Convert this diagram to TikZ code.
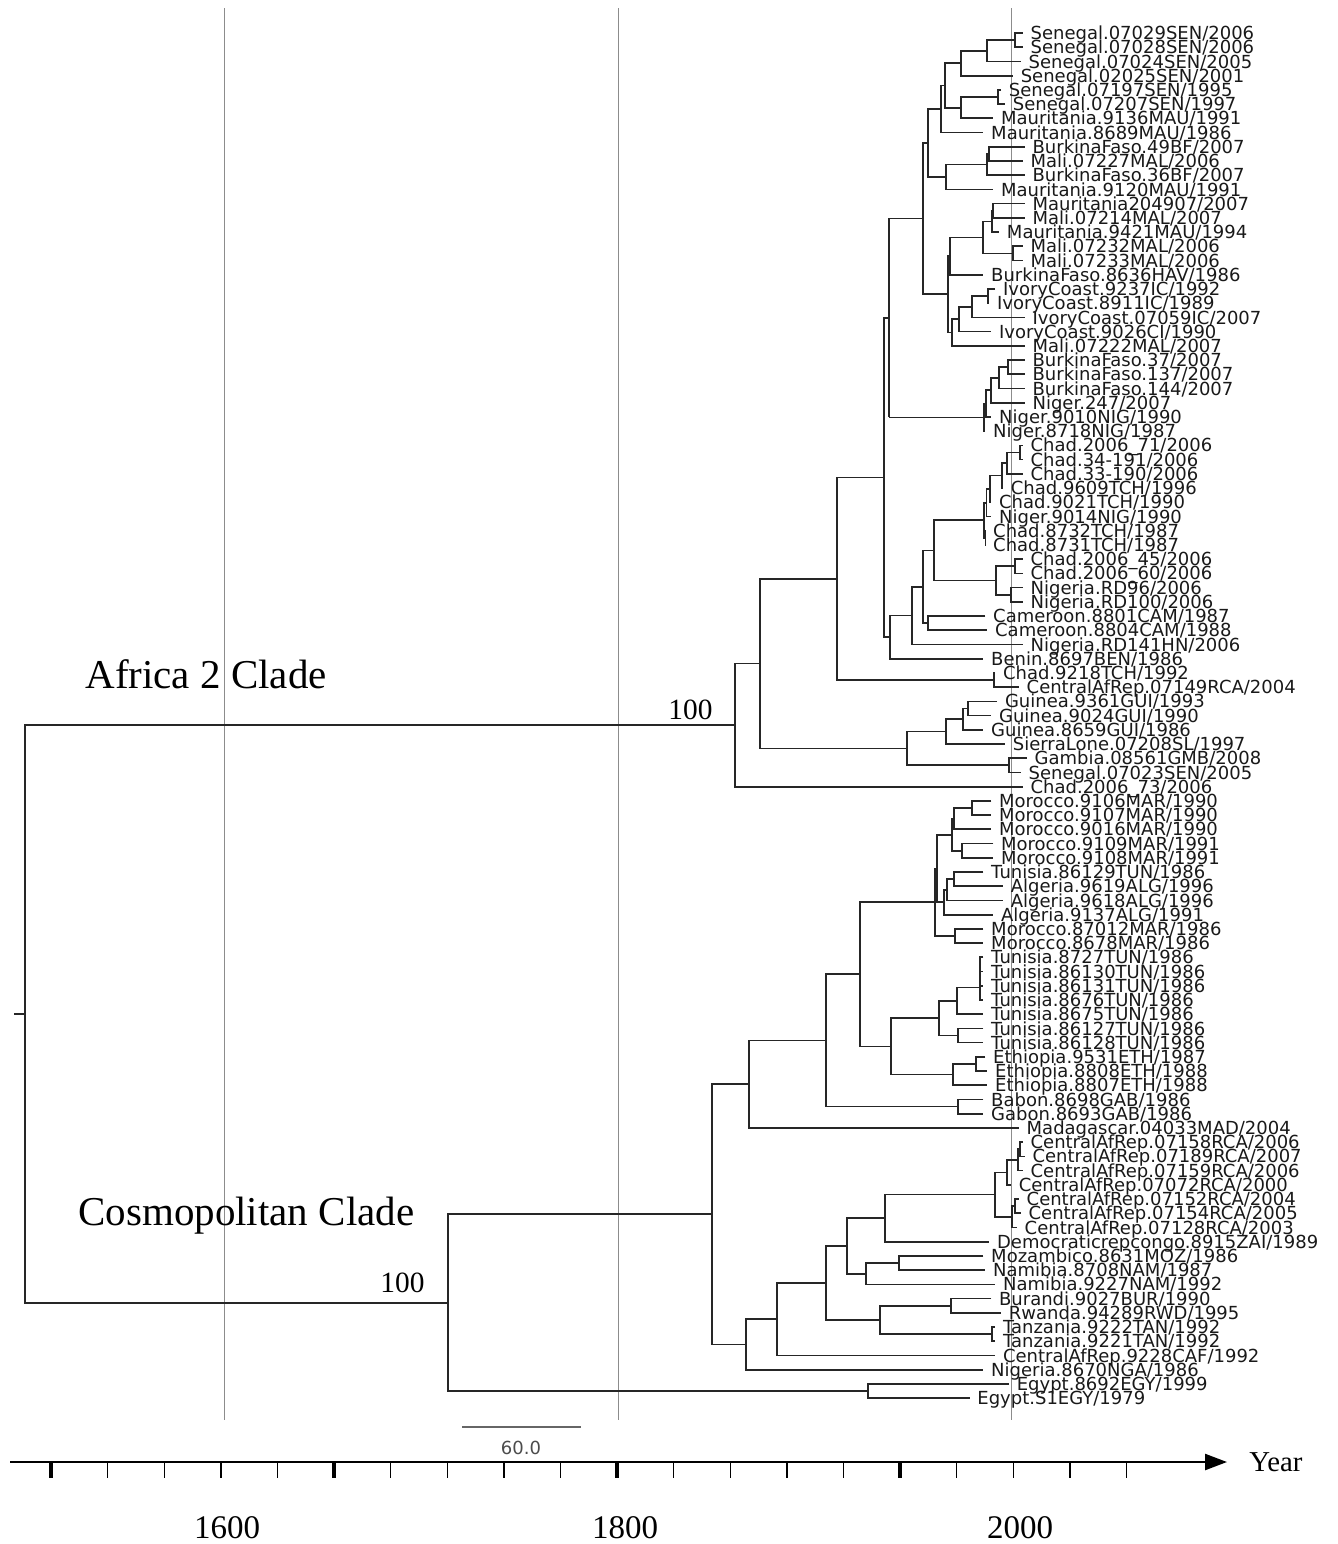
\documentclass[tikz,border=0pt]{standalone}
\usepackage{fontspec}
\setmainfont{Liberation Serif}
\setsansfont{DejaVu Sans}
\usetikzlibrary{arrows.meta,calc}

\newcommand\clade[4]{%
  \path ($(#3)!0.5!(#4)$) coordinate (#1m);
  \coordinate (#1) at (#2,0 |- #1m);
  \draw[branch] (#3) -| (#1) |- (#4);}

\begin{document}
\begin{tikzpicture}[x=0.5pt,y=-0.5pt,
    branch/.style={line width=0.85pt, black!85, line join=miter},
    grid/.style={line width=0.5pt, black!45},
    leaf/.style={anchor=west, inner xsep=3.7pt, inner ysep=0pt, text height=6.6pt, text depth=0pt,
      font=\sffamily\fontsize{9}{9}\selectfont, text=black!90},
    cladename/.style={anchor=base west, inner sep=0pt, font=\fontsize{20.5}{24}\selectfont},
    support/.style={anchor=base west, inner sep=0pt, font=\fontsize{14.7}{16}\selectfont},
    yearlabel/.style={inner sep=0pt, font=\fontsize{16.5}{18}\selectfont},
    axis/.style={line width=1.2pt, -{Triangle[length=11pt,width=8pt]}},
    tick/.style={line width=0.7pt},
    majortick/.style={line width=1.6pt}]
  \useasboundingbox (0,0) rectangle (1338,1544);

  \foreach \gx in {224,618,1011} \draw[grid] (\gx,8) -- (\gx,1420);

  \foreach [count=\i] \nm/\yr in {Senegal.07029SEN/2006, Senegal.07028SEN/2006, Senegal.07024SEN/2005,
      Senegal.02025SEN/2001, Senegal.07197SEN/1995, Senegal.07207SEN/1997, Mauritania.9136MAU/1991,
      Mauritania.8689MAU/1986, BurkinaFaso.49BF/2007, Mali.07227MAL/2006, BurkinaFaso.36BF/2007,
      Mauritania.9120MAU/1991, Mauritania204907/2007, Mali.07214MAL/2007, Mauritania.9421MAU/1994,
      Mali.07232MAL/2006, Mali.07233MAL/2006, BurkinaFaso.8636HAV/1986, IvoryCoast.9237IC/1992,
      IvoryCoast.8911IC/1989, IvoryCoast.07059IC/2007, IvoryCoast.9026CI/1990, Mali.07222MAL/2007,
      BurkinaFaso.37/2007, BurkinaFaso.137/2007, BurkinaFaso.144/2007, Niger.247/2007,
      Niger.9010NIG/1990, Niger.8718NIG/1987, Chad.2006\_71/2006, Chad.34-191/2006, Chad.33-190/2006,
      Chad.9609TCH/1996, Chad.9021TCH/1990, Niger.9014NIG/1990, Chad.8732TCH/1987, Chad.8731TCH/1987,
      Chad.2006\_45/2006, Chad.2006\_60/2006, Nigeria.RD96/2006, Nigeria.RD100/2006,
      Cameroon.8801CAM/1987, Cameroon.8804CAM/1988, Nigeria.RD141HN/2006, Benin.8697BEN/1986,
      Chad.9218TCH/1992, CentralAfRep.07149RCA/2004, Guinea.9361GUI/1993, Guinea.9024GUI/1990,
      Guinea.8659GUI/1986, SierraLone.07208SL/1997, Gambia.08561GMB/2008, Senegal.07023SEN/2005,
      Chad.2006\_73/2006, Morocco.9106MAR/1990, Morocco.9107MAR/1990, Morocco.9016MAR/1990,
      Morocco.9109MAR/1991, Morocco.9108MAR/1991, Tunisia.86129TUN/1986, Algeria.9619ALG/1996,
      Algeria.9618ALG/1996, Algeria.9137ALG/1991, Morocco.87012MAR/1986, Morocco.8678MAR/1986,
      Tunisia.8727TUN/1986, Tunisia.86130TUN/1986, Tunisia.86131TUN/1986, Tunisia.8676TUN/1986,
      Tunisia.8675TUN/1986, Tunisia.86127TUN/1986, Tunisia.86128TUN/1986, Ethiopia.9531ETH/1987,
      Ethiopia.8808ETH/1988, Ethiopia.8807ETH/1988, Babon.8698GAB/1986, Gabon.8693GAB/1986,
      Madagascar.04033MAD/2004, CentralAfRep.07158RCA/2006, CentralAfRep.07189RCA/2007,
      CentralAfRep.07159RCA/2006, CentralAfRep.07072RCA/2000, CentralAfRep.07152RCA/2004,
      CentralAfRep.07154RCA/2005, CentralAfRep.07128RCA/2003, Democraticrepcongo.8915ZAI/1989,
      Mozambico.8631MOZ/1986, Namibia.8708NAM/1987, Namibia.9227NAM/1992, Burandi.9027BUR/1990,
      Rwanda.94289RWD/1995, Tanzania.9222TAN/1992, Tanzania.9221TAN/1992, CentralAfRep.9228CAF/1992,
      Nigeria.8670NGA/1986, Egypt.8692EGY/1999, Egypt.S1EGY/1979}
    \node[leaf] (l\i) at ({1011+1.97*(\yr-2000)},{33+(\i-1)*14.22}) {\nm/\yr};

  \clade{a1}{1015}{l1.west}{l2.west}
  \clade{a2}{987}{a1}{l3.west}
  \clade{a3}{961}{a2}{l4.west}
  \clade{a4}{998}{l5.west}{l6.west}
  \clade{a5}{961}{a4}{l7.west}
  \clade{a6}{945}{a3}{a5}
  \clade{a7}{941}{a6}{l8.west}
  \clade{a8}{989}{l9.west}{l10.west}
  \clade{a9}{987}{a8}{l11.west}
  \clade{a10}{946}{a9}{l12.west}
  \clade{a11}{928}{a7}{a10}
  \clade{a12}{993}{l13.west}{l14.west}
  \clade{a13}{992}{a12}{l15.west}
  \clade{a14}{1013}{l16.west}{l17.west}
  \clade{a15}{983}{a13}{a14}
  \clade{a16}{950}{a15}{l18.west}
  \clade{a17}{988}{l19.west}{l20.west}
  \clade{a18}{972}{a17}{l21.west}
  \clade{a19}{959}{a18}{l22.west}
  \clade{a20}{952}{a19}{l23.west}
  \clade{a21}{948}{a16}{a20}
  \clade{a22}{923}{a11}{a21}
  \clade{ng1}{1008}{l24.west}{l25.west}
  \clade{ng2}{999}{ng1}{l26.west}
  \clade{ng3}{991}{ng2}{l27.west}
  \clade{ng4}{986}{ng3}{l28.west}
  \clade{ng5}{984}{ng4}{l29.west}
  \path ($(a22)!0.5!(ng5)$) coordinate (a23m);
  \coordinate (a23) at (889,0 |- a23m);
  \draw[branch] (a22) -| (a23) -- (a23 |- ng5);
  \draw[branch, line width=0.4pt] (a23 |- ng5) -- (ng5);
  \clade{c1}{1020}{l30.west}{l31.west}
  \clade{c2}{1007}{c1}{l32.west}
  \clade{c3}{1002}{c2}{l33.west}
  \clade{c4}{990}{c3}{l34.west}
  \clade{c5}{986.5}{c4}{l35.west}
  \clade{c6}{985.5}{l36.west}{l37.west}
  \clade{c7}{984}{c5}{c6}
  \clade{c8}{1015}{l38.west}{l39.west}
  \clade{c9}{1011}{l40.west}{l41.west}
  \clade{c10}{996}{c8}{c9}
  \clade{c11}{934}{c7}{c10}
  \clade{cm}{928}{l42.west}{l43.west}
  \clade{c12}{923}{c11}{cm}
  \clade{c13}{912}{c12}{l44.west}
  \clade{c14}{890}{c13}{l45.west}
  \clade{a24}{884}{a23}{c14}
  \clade{a25}{994}{l46.west}{l47.west}
  \clade{a26}{837}{a24}{a25}
  \clade{g1}{968}{l48.west}{l49.west}
  \clade{g2}{963}{g1}{l50.west}
  \clade{g3}{946}{g2}{l51.west}
  \clade{g4}{1009}{l52.west}{l53.west}
  \clade{g5}{907}{g3}{g4}
  \clade{a27}{760}{a26}{g5}
  \clade{afr}{735}{a27}{l54.west}

  \clade{m1}{972}{l55.west}{l56.west}
  \clade{m2}{954}{m1}{l57.west}
  \clade{m3}{962}{l58.west}{l59.west}
  \clade{m4}{952}{m2}{m3}
  \clade{al1}{954}{l60.west}{l61.west}
  \clade{al2}{947}{al1}{l62.west}
  \clade{al3}{944}{al2}{l63.west}
  \clade{m5}{937}{m4}{al3}
  \clade{m6}{955}{l64.west}{l65.west}
  \clade{m7}{935}{m5}{m6}
  \clade{t1}{980}{l66.west}{l67.west}
  \clade{t2}{980}{t1}{l68.west}
  \clade{t3}{980}{t2}{l69.west}
  \clade{t4}{957}{t3}{l70.west}
  \clade{t5}{958}{l71.west}{l72.west}
  \clade{t6}{939}{t4}{t5}
  \clade{e1}{976}{l73.west}{l74.west}
  \clade{e2}{953}{e1}{l75.west}
  \clade{t7}{891}{t6}{e2}
  \clade{m8}{860}{m7}{t7}
  \clade{gb}{958}{l76.west}{l77.west}
  \clade{m9}{826}{m8}{gb}
  \clade{m10}{749}{m9}{l78.west}
  \clade{r1}{1020}{l79.west}{l80.west}
  \clade{r2}{1018}{r1}{l81.west}
  \clade{r3}{1007}{r2}{l82.west}
  \clade{r4}{1015}{l83.west}{l84.west}
  \clade{r5}{1012}{r4}{l85.west}
  \clade{r6}{995}{r3}{r5}
  \clade{s1}{885}{r6}{l86.west}
  \clade{z1}{899}{l87.west}{l88.west}
  \clade{z2}{866}{z1}{l89.west}
  \clade{s2}{847}{s1}{z2}
  \clade{b1}{951}{l90.west}{l91.west}
  \clade{b2}{992}{l92.west}{l93.west}
  \clade{s3}{880}{b1}{b2}
  \clade{s4}{826}{s2}{s3}
  \clade{s5}{777}{s4}{l94.west}
  \clade{s6}{746}{s5}{l95.west}
  \clade{m11}{712}{m10}{s6}
  \clade{eg}{868}{l96.west}{l97.west}
  \clade{cos}{448}{m11}{eg}

  \clade{root}{25}{afr}{cos}
  \coordinate (stub) at (14,0 |- root);
  \draw[branch] (root) -- (stub);

  \node[cladename] (afrname) at (85,688) {Africa 2 Clade};
  \node[cladename] (cosname) at (78,1225) {Cosmopolitan Clade};
  \node[support] (afrsup) at (668,719) {100};
  \node[support] (cossup) at (380,1292) {100};

  \coordinate (bar1) at (462,1427);
  \coordinate (bar2) at (581,1427);
  \draw[line width=0.8pt, black!60] (bar1) -- (bar2);
  \node[font=\sffamily\fontsize{9}{9}\selectfont, text=black!70] (barval) at (521,1448) {60.0};

  \coordinate (ax0) at (10,1462);
  \coordinate (ax1) at (1227,1462);
  \draw[axis] (ax0) -- (ax1);
  \foreach \k in {0,...,19} \draw[tick] ({51+56.6*\k},1462) -- ++(0,16);
  \foreach \k in {0,5,10,15} \draw[majortick] ({51+56.6*\k},1462) -- ++(0,16);
  \node[anchor=west, inner sep=0pt, font=\fontsize{14.4}{16}\selectfont] (year) at (1249,1462) {Year};
  \node[yearlabel] (y1600) at (227,1528) {1600};
  \node[yearlabel] (y1800) at (625,1528) {1800};
  \node[yearlabel] (y2000) at (1020,1528) {2000};
\end{tikzpicture}
\end{document}
